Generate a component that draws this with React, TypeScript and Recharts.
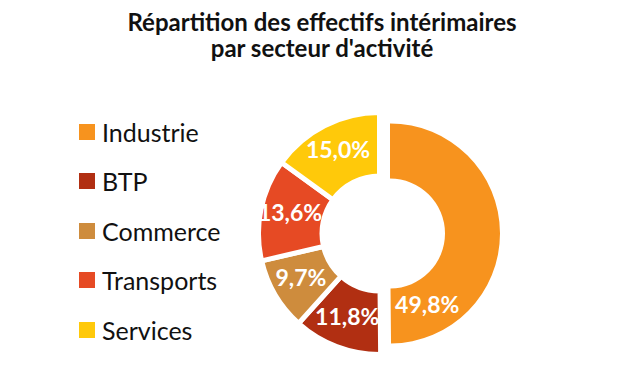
import React from "react";
import { PieChart, Pie, Cell } from "recharts";

const sectors = ["Industrie", "BTP", "Commerce", "Transports", "Services"];
const shares = [49.8, 11.8, 9.7, 13.6, 15.0];
const colors = ["#F7931E", "#B12F12", "#CE8C3D", "#E64A24", "#FFC90A"];

const data = sectors.map((name, i) => ({ name, value: shares[i] }));

const FONT = "Lato, 'Noto Sans', sans-serif";
const RAD = Math.PI / 180;
// l'étiquette de la part détachée est descendue vers le bas, comme dans l'original
const EXPLODED_LABEL_SHIFT = -63;

const fmt = (v: number) => v.toFixed(1).replace(".", ",") + "%";

function makeLabel(showExploded: boolean) {
  return (props: any) => {
    const { cx, cy, midAngle, innerRadius, outerRadius, index, value } = props;
    const exploded = index === 0;
    if (exploded !== showExploded) return null;
    const angle = exploded ? EXPLODED_LABEL_SHIFT : midAngle;
    const r = exploded ? 82 : (innerRadius + outerRadius) / 2 + 2;
    const x = cx + r * Math.cos(-angle * RAD);
    const y = cy + r * Math.sin(-angle * RAD) - 3;
    return (
      <text
        x={x}
        y={y}
        fill="#fff"
        fontFamily={FONT}
        fontWeight={700}
        fontSize={23}
        textAnchor="middle"
        dominantBaseline="central"
      >
        {fmt(value)}
      </text>
    );
  };
}

function LegendList() {
  return (
    <div style={{ position: "absolute", left: 79, top: 107, fontFamily: FONT }}>
      {sectors.map((s, i) => (
        <div key={s} style={{ height: 49.5, display: "flex", alignItems: "center" }}>
          <span style={{ width: 16, height: 16, background: colors[i], display: "inline-block" }} />
          <span style={{ marginLeft: 7, fontSize: 25, color: "#111" }}>{s}</span>
        </div>
      ))}
    </div>
  );
}

export default function App() {
  return (
    <div style={{ position: "absolute", left: 0, top: 0, width: 624, height: 376, background: "#fff" }}>
      <div
        style={{
          position: "absolute",
          left: 0,
          top: 9,
          width: 644,
          textAlign: "center",
          fontFamily: FONT,
          fontWeight: 700,
          fontSize: 24,
          lineHeight: "26px",
          color: "#111",
        }}
      >
        Répartition des effectifs intérimaires
        <br />
        par secteur d'activité
      </div>
      <LegendList />
      <PieChart width={624} height={376} style={{ position: "absolute", left: 0, top: 0 }}>
        <Pie
          data={data}
          dataKey="value"
          cx={374.5}
          cy={228.5}
          innerRadius={57.5}
          outerRadius={121}
          startAngle={90}
          endAngle={-270}
          stroke="#fff"
          strokeWidth={5}
          label={makeLabel(false)}
          labelLine={false}
          isAnimationActive={false}
        >
          {data.map((d, i) => (
            <Cell key={d.name} fill={i === 0 ? "transparent" : colors[i]} stroke={i === 0 ? "none" : "#fff"} />
          ))}
        </Pie>
        <Pie
          data={data}
          dataKey="value"
          cx={385}
          cy={228.5}
          innerRadius={55}
          outerRadius={110}
          startAngle={90}
          endAngle={-270}
          stroke="none"
          label={makeLabel(true)}
          labelLine={false}
          isAnimationActive={false}
        >
          {data.map((d, i) => (
            <Cell key={d.name} fill={i === 0 ? colors[0] : "transparent"} />
          ))}
        </Pie>
      </PieChart>
    </div>
  );
}
